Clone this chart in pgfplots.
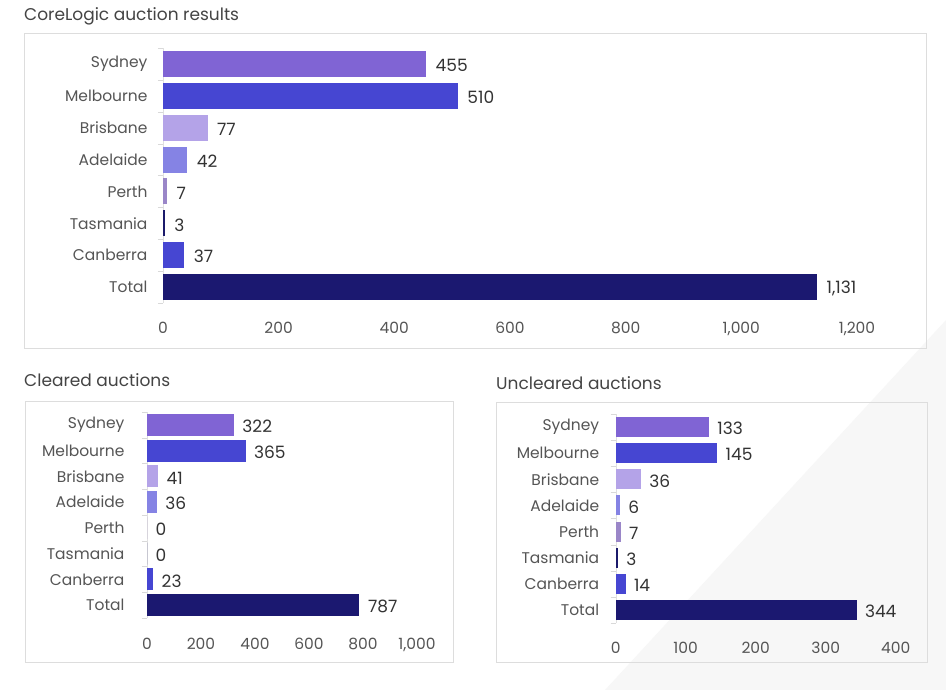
\documentclass[border=0pt]{standalone}
\usepackage{fontspec}
\setmainfont{Poppins}
\usepackage{pgfplots}
\pgfplotsset{compat=1.18}
\definecolor{csyd}{HTML}{8064D4}
\definecolor{cmel}{HTML}{4646D2}
\definecolor{cbri}{HTML}{B4A3E8}
\definecolor{cade}{HTML}{8583E4}
\definecolor{cper}{HTML}{9A86C8}
\definecolor{ctas}{HTML}{1B1A6B}
\definecolor{ccan}{HTML}{4646D2}
\definecolor{ctot}{HTML}{1B1870}
\definecolor{txt}{HTML}{555555}
\definecolor{ttl}{HTML}{444444}
\definecolor{val}{HTML}{333333}
\definecolor{boxc}{HTML}{DDDDDD}
\pgfplotsset{
 panel/.style={
  scale only axis, xbar, y dir=reverse, ymin=-0.5, ymax=7.5,
  ytick={0,...,7},
  yticklabels={Sydney,Melbourne,Brisbane,Adelaide,Perth,Tasmania,Canberra,Total},
  minor ytick={-0.5,0.5,...,7.5},
  xmin=0,
  axis lines*=left, axis line style={-},
  x axis line style={draw=none},
  y axis line style={draw=black!12},
  major tick length=0pt, minor tick length=5pt, tick align=outside,
  minor tick style={draw=black!15},
  tick label style={font=\fontsize{15.5}{18}\selectfont, text=txt},
  /pgf/number format/assume math mode=true,
  /pgf/number format/1000 sep={,},
  bar shift=0pt,
  point meta=x,
  nodes near coords, nodes near coords align=horizontal,
  every node near coord/.append style={font=\fontsize{17}{20}\selectfont, text=val, yshift=-1.5pt},
  clip=false,
 },
 bb/.style={fill=#1, draw=none},
}
\begin{document}
\begin{tikzpicture}
\path[use as bounding box, fill=white] (0pt,0pt) rectangle (946pt,-690pt);
\fill[black!3] (946pt,-320pt) -- (946pt,-690pt) -- (605pt,-690pt) -- cycle;
% titles
\node[anchor=base west, inner sep=0pt, font=\fontsize{17}{20}\selectfont, text=ttl] at (24pt,-21pt) {CoreLogic auction results};
\node[anchor=base west, inner sep=0pt, font=\fontsize{17}{20}\selectfont, text=ttl] at (24pt,-386pt) {Cleared auctions};
\node[anchor=base west, inner sep=0pt, font=\fontsize{17}{20}\selectfont, text=ttl] at (496pt,-389pt) {Uncleared auctions};
% boxes
\draw[boxc] (24pt,-33pt) rectangle (926pt,-348pt);
\draw[boxc] (25pt,-401pt) rectangle (453pt,-662pt);
\draw[boxc] (496pt,-402pt) rectangle (927pt,-662pt);
% panel 1
\begin{axis}[panel, at={(163pt,-48pt)}, anchor=north west, width=694pt, height=255pt,
  xmax=1200, xtick={0,200,...,1200}, bar width=26pt,
  yticklabel style={xshift=-12pt}, xticklabel style={yshift=-16pt},
  every node near coord/.append style={xshift=6pt}]
\addplot[bb=csyd] coordinates {(455,0)};
\addplot[bb=cmel] coordinates {(510,1)};
\addplot[bb=cbri] coordinates {(77,2)};
\addplot[bb=cade] coordinates {(42,3)};
\addplot[bb=cper] coordinates {(7,4)};
\addplot[bb=ctas] coordinates {(3,5)};
\addplot[bb=ccan] coordinates {(37,6)};
\addplot[bb=ctot] coordinates {(1131,7)};
\end{axis}
% panel 2
\begin{axis}[panel, at={(147pt,-412pt)}, anchor=north west, width=270pt, height=206pt,
  xmax=1000, xtick={0,200,...,1000}, bar width=22pt,
  yticklabel style={xshift=-19pt}, xticklabel style={yshift=-17pt},
  every node near coord/.append style={xshift=5pt}]
\addplot[bb=csyd] coordinates {(322,0)};
\addplot[bb=cmel] coordinates {(365,1)};
\addplot[bb=cbri] coordinates {(41,2)};
\addplot[bb=cade] coordinates {(36,3)};
\addplot[bb=cper] coordinates {(0,4)};
\addplot[bb=ctas] coordinates {(0,5)};
\addplot[bb=ccan] coordinates {(23,6)};
\addplot[bb=ctot] coordinates {(787,7)};
\end{axis}
% panel 3
\begin{axis}[panel, at={(615.7pt,-414pt)}, anchor=north west, width=280pt, height=209pt,
  xmax=400, xtick={0,100,...,400}, bar width=20pt,
  yticklabel style={xshift=-13pt}, xticklabel style={yshift=-16pt},
  every node near coord/.append style={xshift=5pt}]
\addplot[bb=csyd] coordinates {(133,0)};
\addplot[bb=cmel] coordinates {(145,1)};
\addplot[bb=cbri] coordinates {(36,2)};
\addplot[bb=cade] coordinates {(6,3)};
\addplot[bb=cper] coordinates {(7,4)};
\addplot[bb=ctas] coordinates {(3,5)};
\addplot[bb=ccan] coordinates {(14,6)};
\addplot[bb=ctot] coordinates {(344,7)};
\end{axis}
\end{tikzpicture}
\end{document}
